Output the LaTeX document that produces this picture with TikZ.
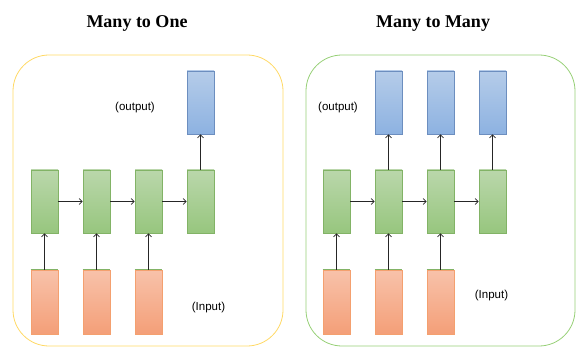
\documentclass[tikz,border=0pt]{standalone}
\usepackage{fontspec}
\setmainfont{Liberation Serif}
\setsansfont{Liberation Sans}
\usetikzlibrary{arrows.meta, positioning}
\definecolor{hidtop}{HTML}{BAD7AB}
\definecolor{hidbot}{HTML}{97C67E}
\definecolor{hidline}{HTML}{82B366}
\definecolor{outtop}{HTML}{B5CCE9}
\definecolor{outbot}{HTML}{8DB2E1}
\definecolor{outline}{HTML}{6C8EBF}
\definecolor{intop}{HTML}{F8C2AA}
\definecolor{inbot}{HTML}{F49F78}
\definecolor{inline}{HTML}{F4A06F}
\definecolor{panelone}{HTML}{FFD966}
\definecolor{panelmany}{HTML}{97D077}
\tikzset{
>={Straight Barb[length=3pt,width=6pt]},
cell/.style={%
    rectangle,
    minimum width=27pt,
    minimum height=63pt,
    inner sep=0pt,
    line width=0.6pt
},
hidden/.style={cell, draw=hidline, top color=hidtop, bottom color=hidbot},
outcell/.style={cell, draw=outline, top color=outtop, bottom color=outbot},
incell/.style={cell, minimum height=64pt, draw=inline, top color=intop, bottom color=inbot},
panel/.style={rectangle, rounded corners=36pt, line width=0.8pt},
title/.style={font=\fontsize{18}{20}\selectfont\bfseries, anchor=base},
tag/.style={font=\fontsize{11.5}{13}\selectfont\sffamily},
link/.style={->, line width=0.7pt, black!85}
}

\begin{document}
\begin{tikzpicture}[x=1pt, y=-1pt]
	\useasboundingbox (0,0) rectangle (577,347);

	% many to one
	\draw[panel, draw=panelone] (13,55) rectangle (283,346);
	\node[title] at (137,28) (t1) {Many to One};
	\node[tag] at (135,107.5) (o1) {(output)};
	\node[tag] at (208.5,307.5) (i1) {(Input)};

	\node[hidden] at (44.5,201.5) (h1) {};
	\node[hidden] at (96.5,201.5) (h2) {};
	\node[hidden] at (148.5,201.5) (h3) {};
	\node[hidden] at (200.5,201.5) (h4) {};
	\node[outcell] at (200.5,102.5) (y4) {};
	\node[incell] at (44.5,302) (x1) {};
	\node[incell] at (96.5,302) (x2) {};
	\node[incell] at (148.5,302) (x3) {};
	\foreach \n in {x1,x2,x3} \draw[hidline, line width=1pt] (\n.north west) -- (\n.north east);

	\draw[link] (h1) -- (h2);
	\draw[link] (h2) -- (h3);
	\draw[link] (h3) -- (h4);
	\draw[link] (x1) -- (h1);
	\draw[link] (x2) -- (h2);
	\draw[link] (x3) -- (h3);
	\draw[link] (h4) -- (y4);

	% many to many
	\draw[panel, draw=panelmany] (306,55) rectangle (575,346);
	\node[title] at (433,28) (t2) {Many to Many};
	\node[tag] at (338,107.5) (o2) {(output)};
	\node[tag] at (491.5,296) (i2) {(Input)};

	\node[hidden] at (336.5,201.5) (hb1) {};
	\node[hidden] at (388.5,201.5) (hb2) {};
	\node[hidden] at (440.5,201.5) (hb3) {};
	\node[hidden] at (492.5,201.5) (hb4) {};
	\node[outcell] at (388.5,102.5) (yb2) {};
	\node[outcell] at (440.5,102.5) (yb3) {};
	\node[outcell] at (492.5,102.5) (yb4) {};
	\node[incell] at (336.5,302) (xb1) {};
	\node[incell] at (388.5,302) (xb2) {};
	\node[incell] at (440.5,302) (xb3) {};
	\foreach \n in {xb1,xb2,xb3} \draw[hidline, line width=1pt] (\n.north west) -- (\n.north east);

	\draw[link] (hb1) -- (hb2);
	\draw[link] (hb2) -- (hb3);
	\draw[link] (hb3) -- (hb4);
	\draw[link] (xb1) -- (hb1);
	\draw[link] (xb2) -- (hb2);
	\draw[link] (xb3) -- (hb3);
	\draw[link] (hb2) -- (yb2);
	\draw[link] (hb3) -- (yb3);
	\draw[link] (hb4) -- (yb4);
\end{tikzpicture}
\end{document}
